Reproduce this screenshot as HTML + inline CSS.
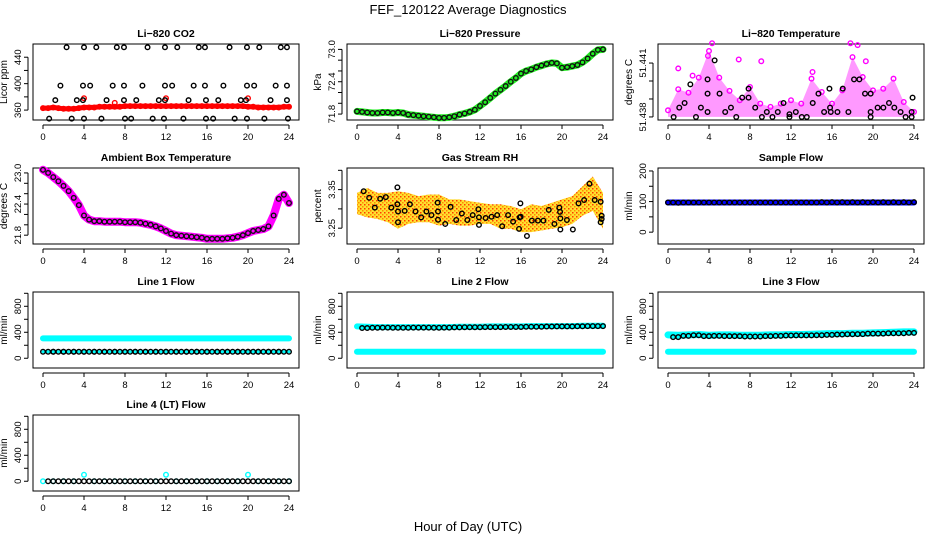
<!DOCTYPE html>
<html><head><meta charset="utf-8">
<style>
html,body{margin:0;padding:0;background:#fff;}
svg{display:block;font-family:"Liberation Sans",sans-serif;}
</style></head>
<body>
<svg id="chart" width="936" height="540" viewBox="0 0 936 540">
<defs>
<pattern id="rhpat" width="4" height="4" patternUnits="userSpaceOnUse">
<rect width="4" height="4" fill="#ffe030"/><rect width="1.5" height="1.5" fill="#ff3a00"/><rect x="2" y="2" width="1.5" height="1.5" fill="#ff8a00"/>
</pattern>
</defs>
<text x="468" y="14" text-anchor="middle" font-size="13">FEF_120122  Average Diagnostics</text>
<text x="468" y="531" text-anchor="middle" font-size="13">Hour of Day (UTC)</text>
</svg>
<script>
// ---- data ----
const xTicks = [0,4,8,12,16,20,24];
const halfHours = [0,0.5,1,1.5,2,2.5,3,3.5,4,4.5,5,5.5,6,6.5,7,7.5,8,8.5,9,9.5,10,10.5,11,11.5,12,12.5,13,13.5,14,14.5,15,15.5,16,16.5,17,17.5,18,18.5,19,19.5,20,20.5,21,21.5,22,22.5,23,23.5,24];
const hours = [0,1,2,3,4,5,6,7,8,9,10,11,12,13,14,15,16,17,18,19,20,21,22,23,24];

const co2BlackHours = [2.3,4.0,5.2,7.2,7.9,10.2,11.9,13.1,15.2,15.8,18.2,19.9,21.1,23.2,23.8,1.7,3.9,4.6,6.8,7.9,9.7,11.9,12.6,14.7,15.8,17.6,19.9,20.6,22.7,23.8,1.2,3.3,3.9,6.2,7.9,9.1,11.3,11.9,14.2,15.9,17.1,19.3,19.8,22.2,23.8,0.6,2.8,4.0,5.7,8.0,8.6,10.7,11.8,13.7,15.9,16.6,18.7,19.9,21.6,23.9];
const co2BlackValues = [455,455,455,455,455,455,455,455,455,455,455,455,455,455,455,397,397,397,397,397,397,397,397,397,397,397,397,397,397,397,375,375,375,375,375,375,375,375,375,375,375,375,375,375,375,347,347,347,347,347,347,347,347,347,347,347,347,347,347,347];
const co2Red = [363,363,364,363,362,362,362,363,364,364,364,365,365,365,365,365,366,366,366,366,366,366,366,366,366,366,366,366,366,366,366,366,366,366,366,366,366,366,366,366,365,365,364,364,364,364,364,365,365];
const co2RedOutHours = [4.0,7.0,12.0,20.0];
const co2RedOutValues = [378,371,378,378];

const pressure = [71.85,71.84,71.83,71.82,71.82,71.83,71.83,71.82,71.83,71.82,71.79,71.78,71.77,71.76,71.75,71.74,71.73,71.73,71.74,71.76,71.79,71.81,71.84,71.88,71.95,72.02,72.10,72.18,72.25,72.32,72.40,72.47,72.55,72.60,72.63,72.67,72.70,72.73,72.75,72.74,72.66,72.67,72.69,72.71,72.76,72.83,72.92,72.99,73.00];

const tempHi = [51.43837,51.43954,51.43935,51.44019,51.44167,51.44019,51.43945,51.43893,51.43967,51.43874,51.43856,51.43874,51.43893,51.43874,51.44013,51.43939,51.43874,51.43948,51.44133,51.44022,51.43948,51.43957,51.44013,51.43883,51.43828];
const tempOutHours = [4.3,3.9,6.9,17.8,18.5,19.3,1.0,9.1,2.4,14.1];
const tempOutValues = [51.4421,51.4414,51.4412,51.4421,51.4420,51.4411,51.4407,51.4411,51.4403,51.4405];
const tempBlackHours = [0.55,1.10,1.62,2.18,2.73,3.21,3.86,3.86,3.86,4.55,5.03,5.58,6.14,6.66,7.24,7.86,7.86,8.51,9.16,9.64,10.19,10.71,11.27,11.85,11.85,12.47,13.05,13.54,14.12,14.68,15.23,15.75,15.81,15.88,16.53,17.05,17.60,18.15,18.67,19.22,19.77,19.77,19.77,20.45,21.01,21.56,22.08,22.69,23.18,23.77,23.86,23.77];
const tempBlackValues = [51.438000,51.438519,51.438778,51.439815,51.438000,51.438519,51.440093,51.439296,51.438278,51.441148,51.439296,51.438278,51.438519,51.438000,51.439074,51.439074,51.439574,51.438519,51.438000,51.438278,51.438000,51.438278,51.438778,51.438000,51.438150,51.438278,51.438000,51.438000,51.438778,51.439296,51.438278,51.439574,51.438519,51.438278,51.438278,51.439574,51.438278,51.440093,51.440093,51.439296,51.439296,51.438278,51.438000,51.438519,51.438519,51.438778,51.438519,51.438278,51.438000,51.438278,51.439074,51.438000];

const ambient = [23.06,23.00,22.92,22.84,22.75,22.65,22.52,22.38,22.18,22.10,22.07,22.07,22.06,22.06,22.06,22.06,22.05,22.05,22.05,22.04,22.02,22.00,21.97,21.93,21.88,21.83,21.80,21.79,21.78,21.77,21.76,21.75,21.73,21.73,21.73,21.73,21.74,21.75,21.77,21.80,21.84,21.88,21.90,21.92,21.97,22.18,22.50,22.58,22.42];

const rhBlackHours = [0.65,1.19,1.74,2.26,2.81,3.35,3.94,3.94,4.00,4.00,4.65,5.16,5.71,6.26,6.77,7.26,7.87,7.90,7.90,8.61,9.13,9.68,10.23,10.77,11.29,11.84,11.90,11.90,12.55,13.13,13.68,14.16,14.74,15.23,15.81,15.87,15.94,15.97,16.58,17.06,17.65,18.19,18.71,19.26,19.74,19.81,19.84,19.84,20.48,21.06,21.61,22.16,22.68,23.19,23.77,23.77,23.87,23.87];
const rhBlackValues = [3.3458,3.3288,3.3034,3.3263,3.3305,3.3034,3.3559,3.3119,3.2932,3.2653,3.2949,3.3119,3.2932,3.2780,3.2932,3.2839,3.3161,3.2932,3.2720,3.2610,3.3051,3.2712,3.2881,3.2712,3.2839,3.2992,3.2780,3.2585,3.2763,3.2797,3.2839,3.2551,3.2839,3.2669,3.2483,3.2780,3.3144,3.2797,3.2297,3.2695,3.2695,3.2695,3.2975,3.2610,3.3034,3.2924,3.2754,3.2466,3.2712,3.2466,3.3144,3.3229,3.3653,3.3229,3.3186,3.2653,3.2822,3.2737];
const rhHi = [3.3415,3.3542,3.3415,3.3415,3.3458,3.3415,3.3331,3.3373,3.3373,3.3246,3.3246,3.3203,3.3161,3.3119,3.3119,3.3076,3.2992,3.3119,3.3076,3.3161,3.3246,3.3331,3.3585,3.3839,3.3415];
const rhLo = [3.2864,3.2780,3.2737,3.2653,3.2483,3.2610,3.2653,3.2653,3.2568,3.2610,3.2568,3.2568,3.2610,3.2610,3.2483,3.2483,3.2398,3.2398,3.2441,3.2483,3.2525,3.2610,3.2822,3.2949,3.2483];

const sampleFlow = [97,97,97,97,97,97,97,97,97,97,97,97,97,97,97,97,97,97,97,97,97,97,97,97,97];
const sampleBlack = [97,96,97,97,97,97,97,97,97,97,97,97,97,97,97,98,98,98,98,98,98,98,98,98,98];

const line1Cyan = [305,305,305,305,305,305,305,305,305,305,305,305,305,305,305,305,305,305,305,305,305,305,305,305,305];
const line1Black = [100,100,100,100,100,100,100,100,100,100,100,100,100,100,100,100,100,100,100,100,100,100,100,100,100];
const line2CyanHi = [490,485,480,480,480,480,480,480,480,480,485,485,485,490,490,490,490,495,495,495,495,495,500,500,500];
const line2CyanLo = [100,100,100,100,100,100,100,100,100,100,100,100,100,100,100,100,100,100,100,100,100,100,100,100,100];
const line2Black = [470,465,470,472,470,470,472,472,470,472,475,478,478,480,480,482,482,485,485,488,490,490,492,495,495];
const line3CyanHi = [360,355,360,365,355,360,360,355,355,355,360,360,365,365,370,375,380,380,385,385,390,395,400,405,405];
const line3CyanLo = [100,100,100,100,100,100,100,100,100,100,100,100,100,100,100,100,100,100,100,100,100,100,100,100,100];
const line3Black = [330,325,345,355,340,345,340,340,335,335,340,345,350,352,352,355,360,365,370,372,380,380,385,385,390];
const line4Cyan = [0,0,0,0,100,0,0,0,0,0,0,0,100,0,0,0,0,0,0,0,100,0,0,0,0];
const line4Black = [0,0,0,0,0,0,0,0,0,0,0,0,0,0,0,0,0,0,0,0,0,0,0,0,0];

// ---- drawing ----
const svg = document.getElementById('chart');
const NS = 'http://www.w3.org/2000/svg';
const colX = [33,347,658], rowY = [44,168,292,415], BW = 266, BH = 76;
function mk(tag, attrs, parent){
  const e = document.createElementNS(NS, tag);
  for (const k in attrs) e.setAttribute(k, attrs[k]);
  (parent||svg).appendChild(e);
  return e;
}
function panel(name, col, row, title, ylab, ymin, ymax, ticks, labels){
  const x0 = colX[col], y0 = rowY[row];
  const g = mk('g', {});
  
  
  const sx = h => x0 + 10 + h * (246/24);
  const sy = v => y0 + BH - (v - ymin) / (ymax - ymin) * BH;
  const box = mk('rect', {x:x0, y:y0, width:BW, height:BH, fill:'none', stroke:'#000', 'stroke-width':1}, g);
  
  
  const t = mk('text', {x:x0+BW/2, y:y0-7, 'text-anchor':'middle', 'font-size':10.5, 'font-weight':'bold'}, g);
  t.textContent = title;
  
  
  const yl = mk('text', {x:0, y:0, 'text-anchor':'middle', 'font-size':10, transform:`translate(${x0-26},${y0+BH/2}) rotate(-90)`}, g);
  yl.textContent = ylab;
  
  
  const xa = mk('g', {}, g);
  
  
  mk('line', {x1:sx(0), x2:sx(24), y1:y0+BH+5, y2:y0+BH+5, stroke:'#000'}, xa);
  xTicks.forEach(h => {
    mk('line', {x1:sx(h), x2:sx(h), y1:y0+BH+5, y2:y0+BH+9, stroke:'#000'}, xa);
    const tl = mk('text', {x:sx(h), y:y0+BH+20, 'text-anchor':'middle', 'font-size':9.5}, xa);
    tl.textContent = h;
    
    
  });
  const ya = mk('g', {}, g);
  
  
  mk('line', {x1:x0-5, x2:x0-5, y1:sy(ticks[0]), y2:sy(ticks[ticks.length-1]), stroke:'#000'}, ya);
  ticks.forEach(v => {
    mk('line', {x1:x0-9, x2:x0-5, y1:sy(v), y2:sy(v), stroke:'#000'}, ya);
  });
  labels.forEach(lb => {
    const tl = mk('text', {x:0, y:0, 'text-anchor':'middle', 'font-size':9.5, transform:`translate(${x0-12},${sy(parseFloat(lb))}) rotate(-90)`}, ya);
    tl.textContent = lb;
    
    
  });
  return {g, sx, sy};
}
function circles(p, hs, vs, color, name, r){
  hs.forEach((h,i) => {
    const c = mk('circle', {cx:p.sx(h), cy:p.sy(vs[i]), r:r||2.3, fill:'none', stroke:color, 'stroke-width':1.4}, p.g);
    
    
  });
}
function thick(p, hs, vs, color, w, name){
  const pts = hs.map((h,i) => p.sx(h).toFixed(1) + ',' + p.sy(vs[i]).toFixed(1)).join(' ');
  const l = mk('polyline', {points:pts, fill:'none', stroke:color, 'stroke-width':w, 'stroke-linejoin':'round', 'stroke-linecap':'round'}, p.g);
  
  
}
function band(p, hs, lo, hi, fill, name){
  const top = hs.map((h,i) => p.sx(h).toFixed(1) + ',' + p.sy(hi[i]).toFixed(1));
  const bot = hs.map((h,i) => p.sx(h).toFixed(1) + ',' + p.sy(lo[i]).toFixed(1)).reverse();
  const pg = mk('polygon', {points:top.concat(bot).join(' '), fill:fill, stroke:'none', 'stroke-linejoin':'round'}, p.g);
  
  
}

let p = panel('co2', 0, 0, 'Li\u2212820 CO2', 'Licor ppm', 345, 460, [360,380,400,420,440], ['360','400','440']);
thick(p, halfHours, co2Red, '#ff0000', 5, 'co2-red-series');
circles(p, halfHours, co2Red, '#ff0000', 'co2-red-point');
circles(p, co2RedOutHours, co2RedOutValues, '#ff0000', 'co2-red-point');
circles(p, co2BlackHours, co2BlackValues, '#000', 'co2-black-point');

p = panel('pressure', 1, 0, 'Li\u2212820 Pressure', 'kPa', 71.69, 73.1, [71.8,72.0,72.2,72.4,72.6,72.8,73.0], ['71.8','72.4','73.0']);
thick(p, halfHours, pressure, '#22ee22', 7, 'pressure-green-series');
circles(p, halfHours, pressure, '#111', 'pressure-black-point');

p = panel('temperature', 2, 0, 'Li\u2212820 Temperature', 'degrees C', 51.43783, 51.44206, [51.438,51.439,51.440,51.441], ['51.438','51.441']);
band(p, hours, hours.map(() => 51.438), tempHi, 'rgba(255,0,255,0.4)', 'temperature-magenta-band');
circles(p, hours, tempHi, '#ff00ff', 'temperature-magenta-point');
circles(p, tempOutHours, tempOutValues, '#ff00ff', 'temperature-magenta-point');
circles(p, tempBlackHours, tempBlackValues, '#000', 'temperature-black-point');

p = panel('ambient', 0, 1, 'Ambient Box Temperature', 'degrees C', 21.63, 23.095, [21.8,22.0,22.2,22.4,22.6,22.8,23.0], ['21.8','22.4','23.0']);
thick(p, halfHours, ambient, '#ff00ff', 8, 'ambient-magenta-series');
circles(p, halfHours, ambient, '#111', 'ambient-black-point');

p = panel('rh', 1, 1, 'Gas Stream RH', 'percent', 3.209, 3.406, [3.25,3.30,3.35,3.40], ['3.25','3.35']);
band(p, hours, rhLo, rhHi, 'url(#rhpat)', 'rh-orange-band');
circles(p, rhBlackHours, rhBlackValues, '#000', 'rh-black-point');

p = panel('sample-flow', 2, 1, 'Sample Flow', 'ml/min', -38.7, 209.7, [0,50,100,150,200], ['0','100','200']);
thick(p, hours, sampleFlow, '#0000ff', 6, 'sample-flow-blue-series');
circles(p, hours, sampleBlack, '#000', 'sample-flow-black-point');
circles(p, halfHours.filter(h => h % 1 !== 0), halfHours.filter(h => h % 1 !== 0).map(() => 97), '#000', 'sample-flow-black-point');

const flowTicks = [0,200,400,600,800,1000], flowLabels = ['0','400','800'];
p = panel('line1', 0, 2, 'Line 1 Flow', 'ml/min', -150, 1020, flowTicks, flowLabels);
thick(p, hours, line1Cyan, '#00ffff', 6, 'line1-cyan-series');
thick(p, hours, line1Black, '#00ffff', 3, 'line1-cyan-low');
circles(p, hours, line1Black, '#000', 'line1-black-point');
circles(p, halfHours.slice(1,48), halfHours.slice(1,48).map(() => 100), '#000', 'line1-black-point');
p = panel('line2', 1, 2, 'Line 2 Flow', 'ml/min', -150, 1020, flowTicks, flowLabels);
thick(p, hours, line2CyanLo, '#00ffff', 6, 'line2-cyan-low');
thick(p, hours, line2CyanHi, '#00ffff', 6, 'line2-cyan-high');
circles(p, hours.slice(1), line2Black.slice(1), '#000', 'line2-black-point');
circles(p, hours.slice(1).map(h => h - 0.5), line2Black.slice(1), '#000', 'line2-black-point');
p = panel('line3', 2, 2, 'Line 3 Flow', 'ml/min', -150, 1020, flowTicks, flowLabels);
thick(p, hours, line3CyanLo, '#00ffff', 6, 'line3-cyan-low');
thick(p, hours, line3CyanHi, '#00ffff', 7, 'line3-cyan-high');
circles(p, hours.slice(1), line3Black.slice(1), '#000', 'line3-black-point');
circles(p, hours.slice(1).map(h => h - 0.5), line3Black.slice(1), '#000', 'line3-black-point');
p = panel('line4', 0, 3, 'Line 4 (LT) Flow', 'ml/min', -150, 1020, flowTicks, flowLabels);
circles(p, hours, line4Cyan, '#00ffff', 'line4-cyan-point');
circles(p, hours.slice(1), line4Black.slice(1), '#000', 'line4-black-point');
circles(p, hours.slice(1).map(h => h - 0.5), line4Black.slice(1), '#000', 'line4-black-point');
</script>
</body></html>
